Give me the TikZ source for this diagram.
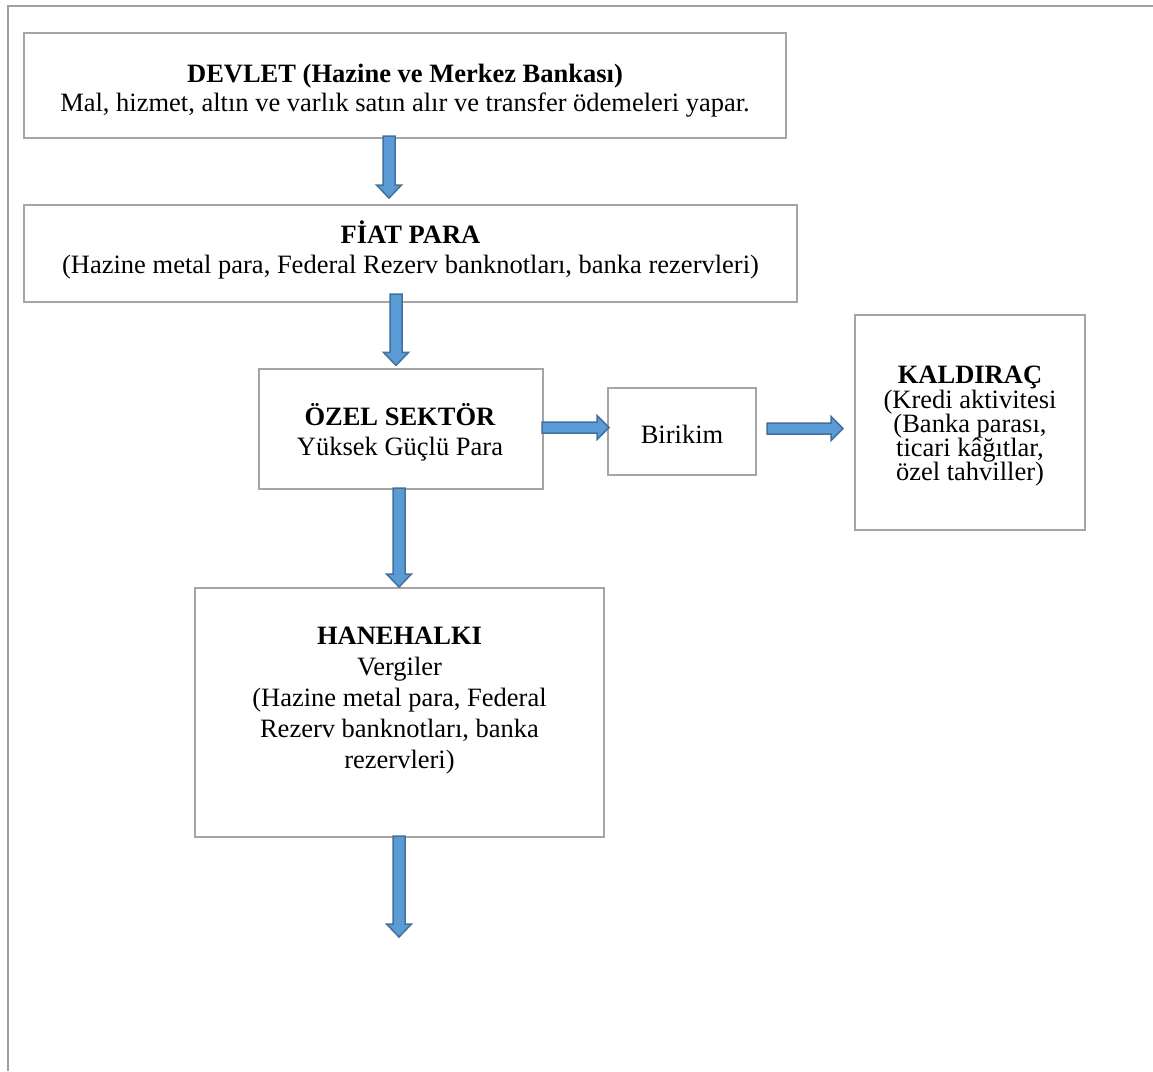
\documentclass[tikz,border=0pt]{standalone}
\usepackage{fontspec}
\setmainfont{Liberation Serif}
\usetikzlibrary{calc}
\definecolor{boxgray}{HTML}{A5A5A5}
\definecolor{framegray}{HTML}{A0A0A0}
\definecolor{arrfill}{HTML}{5B9BD5}
\definecolor{arrline}{HTML}{41719C}
\tikzset{
  box/.style={draw=boxgray, line width=2.5pt, inner sep=0pt, outer sep=0pt, fill=white},
  txt/.style={align=center, inner sep=0pt, outer sep=0pt, anchor=north},
  barrow/.style={fill=arrfill, draw=arrline, line width=1.5pt, line join=miter},
  frameline/.style={draw=framegray, line width=2pt},
}
\newcommand\fs[1]{\fontsize{26.5}{#1}\selectfont\lineskiplimit=-100pt}
% vertical block arrow: #1 = top centre of shaft, #2 = tip
\newcommand\downblock[2]{\filldraw[barrow] let \p1=(#1), \p2=(#2) in
  (\x1-6pt,\y1) -- (\x1+6pt,\y1) -- (\x1+6pt,\y2+13pt) -- (\x1+12.5pt,\y2+13pt)
  -- (\x1,\y2) -- (\x1-12.5pt,\y2+13pt) -- (\x1-6pt,\y2+13pt) -- cycle;}
% horizontal block arrow: #1 = start (left) centre, #2 = tip
\newcommand\rightblock[2]{\filldraw[barrow] let \p1=(#1), \p2=(#2) in
  (\x1,\y1-5.5pt) -- (\x2-12pt,\y1-5.5pt) -- (\x2-12pt,\y1-12pt) -- (\x2,\y1)
  -- (\x2-12pt,\y1+12pt) -- (\x2-12pt,\y1+5.5pt) -- (\x1,\y1+5.5pt) -- cycle;}
\begin{document}
\begin{tikzpicture}[x=1pt,y=-1pt]
\useasboundingbox[fill=white] (0,0) rectangle (1153,1071);
\draw[frameline] (1153,6) -- (8,6) -- (8,1071);

% boxes
\node[box, minimum width=762, minimum height=105] (devlet) at (405,85.5) {};
\node[box, minimum width=773, minimum height=97] (fiat) at (410.5,253.5) {};
\node[box, minimum width=284, minimum height=120] (ozel) at (401,429) {};
\node[box, minimum width=148, minimum height=87] (birikim) at (682,431.5) {};
\node[box, minimum width=230, minimum height=215] (kaldirac) at (970,422.5) {};
\node[box, minimum width=409, minimum height=249] (hane) at (399.5,712.5) {};

% texts
\node[txt, font=\fs{29}] (devletT) at (405,61.7) {\strut\textbf{DEVLET (Hazine ve Merkez Bankası)}\\Mal, hizmet, altın ve varlık satın alır ve transfer ödemeleri yapar.};
\node[txt, font=\fs{29.5}] (fiatT) at (410.5,221) {\strut\textbf{FİAT PARA}\\(Hazine metal para, Federal Rezerv banknotları, banka rezervleri)};
\node[txt, font=\fs{30}] (ozelT) at (400,403.3) {\strut\textbf{ÖZEL SEKTÖR}\\Yüksek Güçlü Para};
\node[txt, font=\fs{30}] (birikimT) at (682,422) {\strut Birikim};
\node[txt, font=\fs{24.2}] (kaldiracT) at (970,366.4) {\strut\textbf{KALDIRAÇ}\\(Kredi aktivitesi\\(Banka parası,\\ticari kâğıtlar,\\özel tahviller)};
\node[txt, font=\fs{30.8}] (haneT) at (399.5,623.4) {\strut\textbf{HANEHALKI}\\Vergiler\\(Hazine metal para, Federal\\Rezerv banknotları, banka\\rezervleri)};

% arrows
\coordinate (out) at (399,937);
\downblock{$(devlet.south -| 389,0)+(0,-2)$}{$(fiat.north -| 389,0)+(0,-7)$}
\downblock{$(fiat.south -| 396,0)+(0,-8)$}{$(ozel.north -| 396,0)+(0,-3.6)$}
\downblock{$(ozel.south -| 399,0)+(0,-1)$}{$(hane.north -| 399,0)+(0,-1)$}
\downblock{$(hane.south -| 399,0)+(0,-1)$}{out}
\rightblock{$(ozel.east |- 0,427.5)+(-1,0)$}{$(birikim.west |- 0,427.5)+(1,0)$}
\rightblock{$(birikim.east |- 0,428.5)+(11,0)$}{$(kaldirac.west |- 0,428.5)+(-12,0)$}
\end{tikzpicture}
\end{document}
